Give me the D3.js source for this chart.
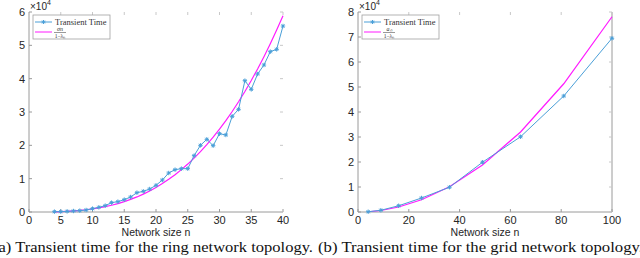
<!DOCTYPE html>
<html><head><meta charset="utf-8">
<script src="https://cdn.jsdelivr.net/npm/d3@7"></script>
<style>body{margin:0;background:#fff}svg{display:block}</style>
</head><body>
<svg id="c" width="640" height="258"></svg>
<script>
// ---- data ----
const ringN = [4,5,6,7,8,9,10,11,12,13,14,15,16,17,18,19,20,21,22,23,24,25,26,27,28,29,30,31,32,33,34,35,36,37,38,39,40];
const ringTransient = [0.01,0.01,0.02,0.03,0.04,0.06,0.10,0.14,0.19,0.28,0.31,0.37,0.45,0.58,0.62,0.69,0.80,0.96,1.17,1.27,1.30,1.30,1.69,2.00,2.18,1.99,2.35,2.31,2.87,3.08,3.94,3.68,4.14,4.41,4.81,4.88,5.58];
const ringBound = [0.006,0.012,0.020,0.032,0.047,0.067,0.092,0.123,0.159,0.202,0.252,0.311,0.377,0.452,0.537,0.631,0.736,0.852,0.980,1.119,1.272,1.438,1.617,1.811,2.020,2.244,2.484,2.741,3.015,3.306,3.616,3.945,4.292,4.660,5.048,5.457,5.888];
const gridN = [4,9,16,25,36,49,64,81,100];
const gridTransient = [0.01,0.07,0.25,0.56,0.99,1.99,3.01,4.64,6.95];
const gridBound = [0.01,0.06,0.20,0.49,1.01,1.88,3.20,5.13,7.81];
const ringXTicks = [0,5,10,15,20,25,30,35,40];
const ringYTicks = [0,1,2,3,4,5,6];
const gridXTicks = [0,20,40,60,80,100];
const gridYTicks = [0,1,2,3,4,5,6,7,8];
const captions = ["(a) Transient time for the ring network topology.","(b) Transient time for the grid network topology."];

const svg = d3.select("#c");
const BLUE = "#4a9fd8", MAG = "#ff1aff", AX = "#9a9a9a", TXT = "#262626";

function star(g, x, y, r){
  const p = `M${x-r},${y}L${x+r},${y}M${x},${y-r}L${x},${y+r}M${x-r*0.7},${y-r*0.7}L${x+r*0.7},${y+r*0.7}M${x-r*0.7},${y+r*0.7}L${x+r*0.7},${y-r*0.7}`;
  g.append("path").attr("d",p).attr("stroke",BLUE).attr("stroke-width",1).attr("fill","none");
}

function panel(cfg){
  const g = svg.append("g");
  const x = d3.scaleLinear().domain(cfg.xd).range(cfg.xr);
  const y = d3.scaleLinear().domain(cfg.yd).range([212,12]);
  const [x0,x1] = cfg.xr;
  g.append("line").attr("x1",x0).attr("x2",x0).attr("y1",12).attr("y2",212).attr("stroke",AX);
  g.append("line").attr("x1",x0).attr("x2",x1).attr("y1",212).attr("y2",212).attr("stroke",AX);
  if(cfg.rightLine) g.append("line").attr("x1",x1).attr("x2",x1).attr("y1",12).attr("y2",212).attr("stroke",AX);
  cfg.xt.forEach(t=>{
    g.append("line").attr("x1",x(t)).attr("x2",x(t)).attr("y1",212).attr("y2",209).attr("stroke",AX);
    g.append("line").attr("x1",x(t)).attr("x2",x(t)).attr("y1",12).attr("y2",15).attr("stroke","#c8c8c8");
    g.append("text").attr("x",x(t)).attr("y",224).attr("text-anchor","middle")
      .attr("font-family","Liberation Sans, Arial").attr("font-size",11).attr("fill",TXT).text(t);
  });
  cfg.yt.forEach(t=>{
    g.append("line").attr("x1",x0).attr("x2",x0+3).attr("y1",y(t)).attr("y2",y(t)).attr("stroke",AX);
    g.append("line").attr("x1",x1).attr("x2",x1-3).attr("y1",y(t)).attr("y2",y(t)).attr("stroke","#c8c8c8");
    g.append("text").attr("x",x0-4).attr("y",y(t)+4).attr("text-anchor","end")
      .attr("font-family","Liberation Sans, Arial").attr("font-size",11).attr("fill",TXT).text(t);
  });
  const e = g.append("text").attr("x",x0+1).attr("y",10).attr("font-family","Liberation Sans, Arial").attr("font-size",10).attr("fill",TXT);
  e.append("tspan").text("\u00d710");
  e.append("tspan").attr("dy",-5).attr("font-size",7).text("4");
  g.append("text").attr("x",(x0+x1)/2).attr("y",236).attr("text-anchor","middle")
    .attr("font-family","Liberation Sans, Arial").attr("font-size",10.5).attr("fill",TXT).text("Network size n");
  const line = d3.line().x((d,i)=>x(cfg.n[i])).y(d=>y(d));
  g.append("path").attr("d",line(cfg.bound)).attr("fill","none").attr("stroke",MAG).attr("stroke-width",1.2);
  g.append("path").attr("d",line(cfg.tt)).attr("fill","none").attr("stroke",BLUE).attr("stroke-width",1);
  cfg.tt.forEach((v,i)=>star(g,x(cfg.n[i]),y(v),2.2));
  const lx = x0+4, ly = 15, lw = 77, lh = 24;
  g.append("rect").attr("x",lx).attr("y",ly).attr("width",lw).attr("height",lh).attr("fill","#fff").attr("stroke","#a0a0a0").attr("stroke-width",0.8);
  g.append("line").attr("x1",lx+2).attr("x2",lx+19).attr("y1",ly+7).attr("y2",ly+7).attr("stroke",BLUE);
  star(g,lx+10.5,ly+7,2);
  g.append("text").attr("x",lx+22).attr("y",ly+10).attr("font-family","Liberation Serif, Times New Roman").attr("font-size",8.5).attr("fill","#333").text("Transient Time");
  g.append("line").attr("x1",lx+2).attr("x2",lx+19).attr("y1",ly+17).attr("y2",ly+17).attr("stroke",MAG);
  const fx = lx+27;
  g.append("text").attr("x",fx).attr("y",ly+16).attr("text-anchor","middle").attr("font-family","Liberation Serif, Times New Roman").attr("font-style","italic").attr("font-size",6).attr("fill","#333").text(cfg.num);
  g.append("line").attr("x1",fx-6).attr("x2",fx+6).attr("y1",ly+17.5).attr("y2",ly+17.5).attr("stroke","#333").attr("stroke-width",0.5);
  g.append("text").attr("x",fx).attr("y",ly+22.5).attr("text-anchor","middle").attr("font-family","Liberation Serif, Times New Roman").attr("font-size",5.5).attr("fill","#333").text("1\u2212\u03bb\u2099");
  return g;
}

panel({xd:[0,40], xr:[29,283], yd:[0,6], xt:ringXTicks, yt:ringYTicks, n:ringN, tt:ringTransient, bound:ringBound, num:"\u03c3n", rightLine:false});
panel({xd:[0,100], xr:[358,612], yd:[0,8], xt:gridXTicks, yt:gridYTicks, n:gridN, tt:gridTransient, bound:gridBound, num:"a\u2099", rightLine:true});

svg.append("text").attr("x",-7).attr("y",252).attr("font-family","Liberation Serif, Times New Roman").attr("font-size",15).attr("fill","#111")
  .attr("textLength",320).attr("lengthAdjust","spacingAndGlyphs").text(captions[0]);
svg.append("text").attr("x",318).attr("y",252).attr("font-family","Liberation Serif, Times New Roman").attr("font-size",15).attr("fill","#111")
  .attr("textLength",325).attr("lengthAdjust","spacingAndGlyphs").text(captions[1]);
</script>
</body></html>
